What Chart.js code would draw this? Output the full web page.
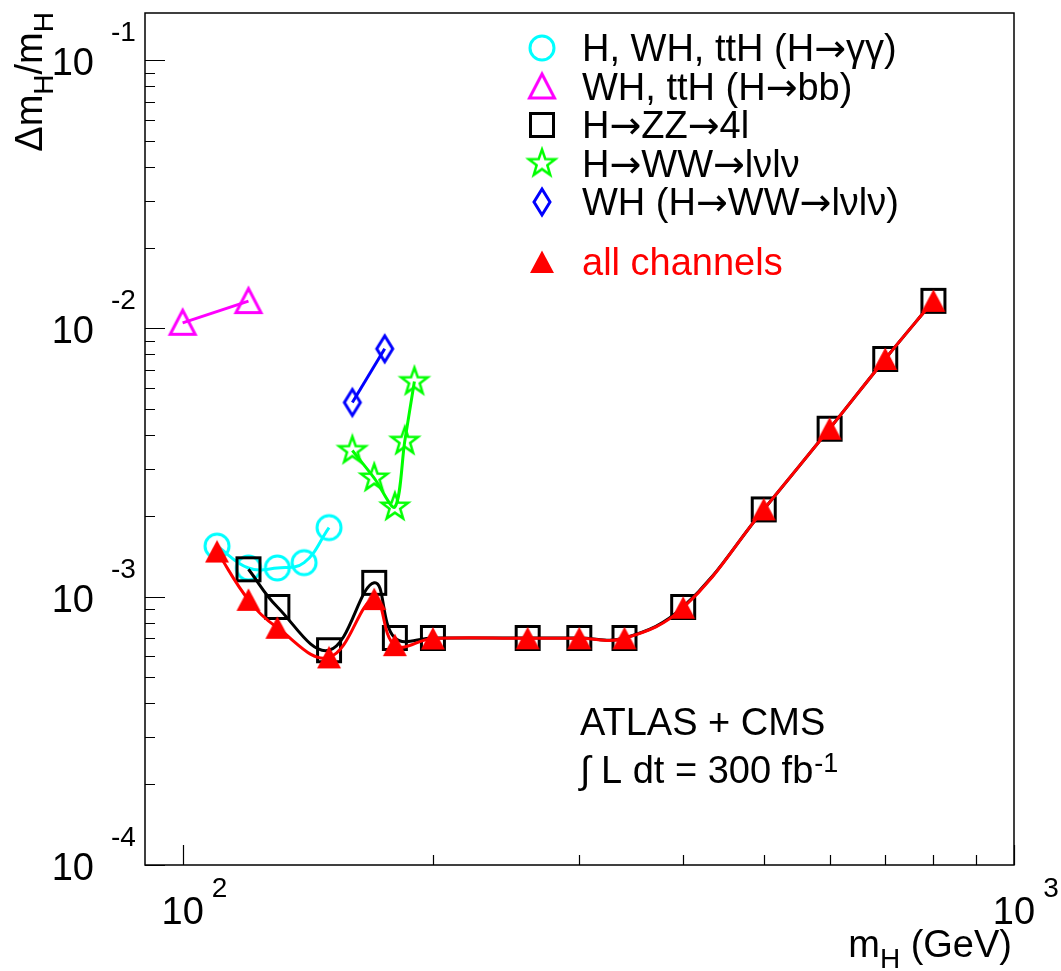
<!DOCTYPE html>
<html lang="en">
<head>
<meta charset="UTF-8">
<title>Higgs mass resolution</title>
<script src="https://cdn.jsdelivr.net/npm/chart.js"></script>
<style>
  body { margin: 0; background: #fff; }
  canvas { display: block; }
</style>
</head>
<body>
<canvas id="massChart" width="1061" height="971"></canvas>
<script>
// mH (GeV) and relative resolution dmH/mH per channel
const massGammaGamma = [110, 120, 130, 140, 150];
const resGammaGamma = [1.545e-3, 1.28e-3, 1.28e-3, 1.34e-3, 1.81e-3];

const massBB = [100, 120];
const resBB = [1.05e-2, 1.265e-2];

const massZZ = [120, 130, 150, 170, 180, 200, 260, 300, 340, 400, 500, 600, 700, 800];
const resZZ = [1.266e-3, 9.16e-4, 6.32e-4, 1.127e-3, 7.02e-4, 7.02e-4, 7.02e-4, 7.02e-4, 7.02e-4, 9.16e-4, 2.116e-3, 4.23e-3, 7.7e-3, 1.268e-2];

const massWW = [160, 170, 180, 185, 190];
const resWW = [3.51e-3, 2.77e-3, 2.16e-3, 3.8e-3, 6.34e-3];

const massWHWW = [160, 175];
const resWHWW = [5.3e-3, 8.4e-3];

const massAll = [110, 120, 130, 150, 170, 180, 200, 260, 300, 340, 400, 500, 600, 700, 800];
const resAll = [1.474e-3, 9.74e-4, 7.66e-4, 5.94e-4, 9.8e-4, 6.6e-4, 6.99e-4, 7.0e-4, 7.0e-4, 7.0e-4, 9.1e-4, 2.116e-3, 4.23e-3, 7.7e-3, 1.268e-2];

const legendLabels = ['H, WH, ttH (H→γγ)', 'WH, ttH (H→bb)', 'H→ZZ→4l', 'H→WW→lνlν', 'WH (H→WW→lνlν)', 'all channels'];

const xDecades = [2, 3];           // labels 10^2, 10^3
const yDecades = [-4, -3, -2, -1]; // labels 10^-4 ... 10^-1

const FONT = '"Liberation Sans", Arial, sans-serif';

// small offscreen canvases used as marker images (ROOT style markers)
function makeMarker(kind, color) {
  const c = document.createElement('canvas');
  c.width = 36; c.height = 36;
  const g = c.getContext('2d');
  g.translate(18, 18);
  g.strokeStyle = color;
  g.fillStyle = color;
  g.lineWidth = 3;
  g.lineJoin = 'miter';
  g.beginPath();
  if (kind === 'circle') {
    g.arc(0, 0, 12, 0, Math.PI * 2);
    g.stroke();
  } else if (kind === 'triangle') {
    g.moveTo(0, -12.5); g.lineTo(12.5, 11.5); g.lineTo(-12.5, 11.5); g.closePath();
    g.stroke();
  } else if (kind === 'triangleFilled') {
    g.moveTo(0, -11.5); g.lineTo(12, 11); g.lineTo(-12, 11); g.closePath();
    g.fill();
  } else if (kind === 'square') {
    g.rect(-11.5, -11.5, 23, 23);
    g.stroke();
  } else if (kind === 'diamond') {
    g.moveTo(0, -13); g.lineTo(8, 0); g.lineTo(0, 13); g.lineTo(-8, 0); g.closePath();
    g.stroke();
  } else if (kind === 'star') {
    g.lineWidth = 2.5;
    for (let i = 0; i < 10; i++) {
      const r = i % 2 === 0 ? 14 : 5.6;
      const a = -Math.PI / 2 + i * Math.PI / 5;
      if (i === 0) g.moveTo(r * Math.cos(a), r * Math.sin(a));
      else g.lineTo(r * Math.cos(a), r * Math.sin(a));
    }
    g.closePath();
    g.stroke();
  }
  return c;
}

function points(xs, ys) {
  return xs.map((x, i) => ({ x: x, y: ys[i] }));
}

function series(label, xs, ys, color, marker, tension, order) {
  return {
    label: label,
    data: points(xs, ys),
    showLine: true,
    borderColor: color,
    borderWidth: 3,
    tension: tension,
    pointStyle: makeMarker(marker, color),
    pointRadius: 10,
    backgroundColor: color,
    order: order
  };
}

// text with the arrows set in a font that has a long arrow glyph
function drawArrowText(ctx, text, x, y) {
  const parts = text.split('→');
  let cx = x;
  parts.forEach((p, i) => {
    ctx.font = '38px ' + FONT;
    ctx.fillText(p, cx, y);
    cx += ctx.measureText(p).width;
    if (i < parts.length - 1) {
      ctx.font = '38px "DejaVu Sans", sans-serif';
      ctx.fillText('→', cx, y);
      cx += ctx.measureText('→').width;
    }
  });
}

// axes, ticks, labels, legend and the text box, drawn the way ROOT does it
const rootDecor = {
  id: 'rootDecor',
  afterDraw(chart) {
    const ctx = chart.ctx;
    const a = chart.chartArea;
    const xs = chart.scales.x, ys = chart.scales.y;
    ctx.save();

    // frame
    ctx.strokeStyle = '#000';
    ctx.lineWidth = 1.5;
    ctx.strokeRect(a.left, a.top, a.right - a.left, a.bottom - a.top);

    // ticks
    ctx.lineWidth = 1.2;
    ctx.beginPath();
    for (let d = 1; d <= 3; d++) {
      for (let m = 1; m <= 9; m++) {
        const v = m * Math.pow(10, d);
        if (v < xs.min || v > xs.max) continue;
        const px = Math.round(xs.getPixelForValue(v)) + 0.5;
        const len = m === 1 ? 20 : 10;
        ctx.moveTo(px, a.bottom);
        ctx.lineTo(px, a.bottom - len);
      }
    }
    for (let d = -5; d <= -1; d++) {
      for (let m = 1; m <= 9; m++) {
        const v = m * Math.pow(10, d);
        if (v < ys.min || v > ys.max) continue;
        const py = Math.round(ys.getPixelForValue(v)) + 0.5;
        const len = m === 1 ? 20 : 10;
        ctx.moveTo(a.left, py);
        ctx.lineTo(a.left + len, py);
      }
    }
    ctx.stroke();

    // tick labels 10^n
    ctx.fillStyle = '#000';
    ctx.textBaseline = 'alphabetic';
    xDecades.forEach(e => {
      const px = xs.getPixelForValue(Math.pow(10, e));
      ctx.font = '38px ' + FONT;
      ctx.textAlign = 'center';
      ctx.fillText('10', px, a.bottom + 59);
      const w = ctx.measureText('10').width;
      ctx.font = '28px ' + FONT;
      ctx.textAlign = 'left';
      ctx.fillText(String(e), px + w / 2 + 8, a.bottom + 32);
    });
    yDecades.forEach(e => {
      const py = ys.getPixelForValue(Math.pow(10, e));
      ctx.font = '38px ' + FONT;
      ctx.textAlign = 'right';
      ctx.fillText('10', 94, py + 15);
      ctx.font = '28px ' + FONT;
      ctx.textAlign = 'left';
      ctx.fillText(String(e), 111, py - 19);
    });

    // axis titles
    drawRich(ctx, [['m', 0], ['H', 1], [' (GeV)', 0]], a.right - 2, 957);
    ctx.save();
    ctx.translate(42, 12);
    ctx.rotate(-Math.PI / 2);
    drawRich(ctx, [['Δm', 0], ['H', 1], ['/m', 0], ['H', 1]], 0, 0);
    ctx.restore();

    // legend
    const rowY = [48, 86.5, 125, 163.5, 202, 262];
    ctx.textAlign = 'left';
    chart.data.datasets.forEach((ds, i) => {
      const img = ds.pointStyle;
      ctx.drawImage(img, 542 - img.width / 2, rowY[i] - img.height / 2);
      ctx.fillStyle = i === 5 ? '#ff0000' : '#000';
      drawArrowText(ctx, legendLabels[i], 582, rowY[i] + 13);
    });

    // text box
    ctx.fillStyle = '#000';
    ctx.font = '38px ' + FONT;
    ctx.textAlign = 'left';
    ctx.fillText('ATLAS + CMS', 580, 735);
    ctx.fillText('∫ L dt = 300 fb', 580, 783);
    const w2 = ctx.measureText('∫ L dt = 300 fb').width;
    ctx.font = '27px ' + FONT;
    ctx.fillText('-1', 580 + w2 + 1, 772);

    ctx.restore();
  }
};

// pieces: [text, isSubscript]; right aligned at x
function drawRich(ctx, pieces, x, y) {
  let total = 0;
  pieces.forEach(p => {
    ctx.font = (p[1] ? '28px ' : '38px ') + FONT;
    total += ctx.measureText(p[0]).width;
  });
  let cx = x - total;
  ctx.textAlign = 'left';
  ctx.fillStyle = '#000';
  pieces.forEach(p => {
    ctx.font = (p[1] ? '28px ' : '38px ') + FONT;
    ctx.fillText(p[0], cx, y + (p[1] ? 11 : 0));
    cx += ctx.measureText(p[0]).width;
  });
}

const ctx = document.getElementById('massChart').getContext('2d');
new Chart(ctx, {
  type: 'scatter',
  data: {
    datasets: [
      series(legendLabels[0], massGammaGamma, resGammaGamma, '#00ffff', 'circle', 0.4, 5),
      series(legendLabels[1], massBB, resBB, '#ff00ff', 'triangle', 0, 4),
      series(legendLabels[2], massZZ, resZZ, '#000000', 'square', 0.4, 1),
      series(legendLabels[3], massWW, resWW, '#00ff00', 'star', 0.3, 3),
      series(legendLabels[4], massWHWW, resWHWW, '#0000ff', 'diamond', 0, 2),
      series(legendLabels[5], massAll, resAll, '#ff0000', 'triangleFilled', 0.4, 0)
    ]
  },
  options: {
    responsive: false,
    animation: false,
    events: [],
    layout: { padding: { left: 145, top: 11, right: 47, bottom: 106 } },
    plugins: { legend: { display: false }, tooltip: { enabled: false } },
    scales: {
      x: { type: 'logarithmic', min: 90.1, max: 1000, display: false },
      y: { type: 'logarithmic', min: 1e-4, max: 0.15, display: false }
    }
  },
  plugins: [rootDecor]
});
</script>
</body>
</html>
